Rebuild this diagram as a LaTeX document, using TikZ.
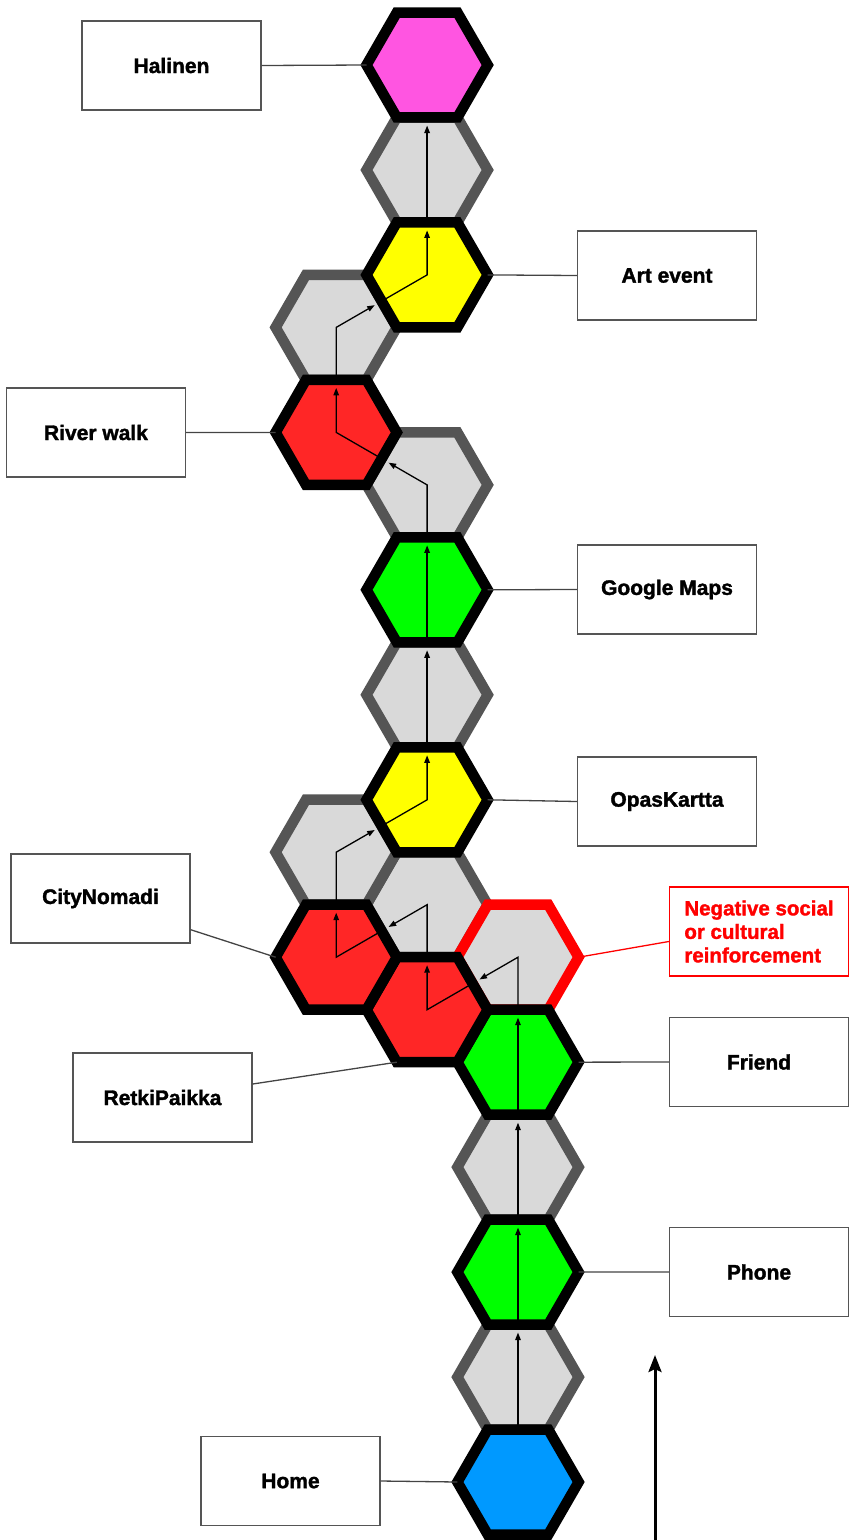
\documentclass[tikz,border=0pt]{standalone}
\usepackage{fontspec}
\setmainfont{Liberation Sans}[BoldFeatures={FakeBold=1.6}]
\usetikzlibrary{shapes.geometric,arrows.meta,calc}
\definecolor{cellfill}{HTML}{D9D9D9}
\definecolor{cellborder}{HTML}{555555}
\definecolor{negred}{HTML}{FF0000}
\definecolor{cred}{HTML}{FF2626}
\definecolor{cgreen}{HTML}{00FF00}
\definecolor{cyellow}{HTML}{FFFF00}
\definecolor{cmagenta}{HTML}{FF55E1}
\definecolor{cblue}{HTML}{0099FF}
\definecolor{boxborder}{HTML}{555555}
\definecolor{linkgray}{HTML}{444444}
\newcommand{\flowcell}[3]{\draw[flow] ($(#1.center)!.5!(#2.center)$) -- (#2.center) -- ($(#2.center)!.5!(#3.center)$);}
\begin{document}
\begin{tikzpicture}[x=1pt,y=-1pt,
  hex/.style={regular polygon, regular polygon sides=6, minimum size=121.2pt,
    inner sep=0pt, outer sep=0pt, line width=10.5pt, line join=miter},
  graycell/.style={hex, draw=cellborder, fill=cellfill},
  keycell/.style={hex, draw=black, fill=#1},
  negcell/.style={hex, draw=negred, fill=cellfill},
  tagbox/.style={draw=boxborder, line width=1.4pt, fill=white,
    minimum width=179pt, minimum height=89pt, inner sep=0pt,
    font=\fontsize{21}{24}\selectfont\bfseries},
  negbox/.style={tagbox, draw=negred, text=negred, align=left,
    font=\fontsize{20.5}{23.5}\selectfont\bfseries},
  flow/.style={line width=1.3pt, -{Triangle[length=7.5pt,width=5.5pt]}, shorten >=8pt},
  link/.style={draw=linkgray, line width=1.3pt},
  bigarrow/.style={line width=3pt, -{Stealth[length=17pt,width=13pt,inset=3pt]}}
]
\useasboundingbox (0,0) rectangle (849,1540);

% gray cells
\node[graycell] (h2)  at (518,1377.04) {};
\node[graycell] (h4)  at (518,1167.12) {};
\node[graycell] (h8)  at (427.1,904.7) {};
\node[graycell] (h10) at (336.2,852.2) {};
\node[graycell] (h12) at (427.1,694.8) {};
\node[graycell] (h14) at (427.1,484.9) {};
\node[graycell] (h16) at (336.2,327.4) {};
\node[graycell] (h18) at (427.1,170.0) {};
% negative cell
\node[negcell] (h6) at (518,957.2) {};
% key cells
\node[keycell=cblue]    (h1)  at (518,1482) {};
\node[keycell=cgreen]   (h3)  at (518,1272.08) {};
\node[keycell=cgreen]   (h5)  at (518,1062.16) {};
\node[keycell=cred]     (h7)  at (427.1,1009.7) {};
\node[keycell=cred]     (h9)  at (336.2,957.2) {};
\node[keycell=cyellow]  (h11) at (427.1,799.8) {};
\node[keycell=cgreen]   (h13) at (427.1,589.8) {};
\node[keycell=cred]     (h15) at (336.2,432.4) {};
\node[keycell=cyellow]  (h17) at (427.1,274.9) {};
\node[keycell=cmagenta] (h19) at (427.1,65.0) {};

% flow path
\flowcell{h1}{h2}{h3}
\flowcell{h2}{h3}{h4}
\flowcell{h3}{h4}{h5}
\flowcell{h4}{h5}{h6}
\flowcell{h5}{h6}{h7}
\flowcell{h6}{h7}{h8}
\flowcell{h7}{h8}{h9}
\flowcell{h8}{h9}{h10}
\flowcell{h9}{h10}{h11}
\flowcell{h10}{h11}{h12}
\flowcell{h11}{h12}{h13}
\flowcell{h12}{h13}{h14}
\flowcell{h13}{h14}{h15}
\flowcell{h14}{h15}{h16}
\flowcell{h15}{h16}{h17}
\flowcell{h16}{h17}{h18}
\flowcell{h17}{h18}{h19}

% labels
\node[tagbox] (lhal)  at (171.5,65.5)  {Halinen};
\node[tagbox] (lart)  at (667,275.5)   {Art event};
\node[tagbox] (lriv)  at (96,432.5)    {River walk};
\node[tagbox] (lgoo)  at (667,589.5)   {Google Maps};
\node[tagbox] (lopa)  at (667,801.5)   {OpasKartta};
\node[tagbox] (lcit)  at (100.5,898.5) {CityNomadi};
\node[negbox] (lneg)  at (759,931.5)   {Negative social\\or cultural\\reinforcement};
\node[tagbox] (lfri)  at (759,1062)    {Friend};
\node[tagbox] (lret)  at (162.5,1097.5){RetkiPaikka};
\node[tagbox] (lpho)  at (759,1272)    {Phone};
\node[tagbox] (lhom)  at (290.5,1481)  {Home};

% connectors
\draw[link] (lhal.east) -- (h19.180);
\draw[link] (h17.0) -- (lart.west);
\draw[link] (lriv.east) -- (h15.180);
\draw[link] (h13.0) -- (lgoo.west);
\draw[link] (h11.0) -- (lopa.west);
\draw[link] ([yshift=14pt]lcit.south east) -- (h9.180);
\draw[link, draw=negred] (h6.0) -- ([yshift=-10pt]lneg.west);
\draw[link] (h5.0) -- (lfri.west);
\draw[link] ([yshift=13.5pt]lret.east) -- (h7.240);
\draw[link] (h3.0) -- (lpho.west);
\draw[link] (lhom.east) -- (h1.180);

% big arrow
\coordinate (abase) at (655,1540);
\coordinate (atip) at (655,1355);
\draw[bigarrow] (abase) -- (atip);
\end{tikzpicture}
\end{document}
